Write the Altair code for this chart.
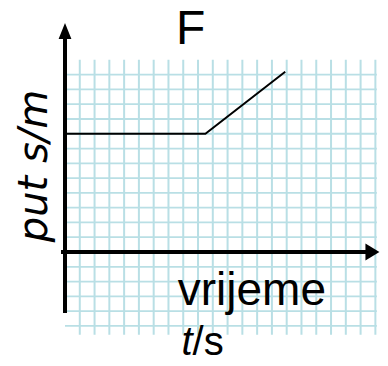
import altair as alt
import pandas as pd

# ---- data (grid units: one unit = one grid cell) ----
grid_x = list(range(1, 22))          # vertical grid lines
grid_y = list(range(-5, 13))         # horizontal grid lines
line_t = [0, 9.5, 14.9]              # time
line_s = [8, 8, 12.2]                # distance

title_text = "F"
ylabel_text = "put s/m"
xlabel_text = "vrijeme"
unit_t = "t"
unit_s = "/s"

# ---- layout constants ----
W, H = 372, 350
XDOM = [-3.857, 21.313]
YDOM = [-7.172, 16.509]
GRID_COLOR = "#b9dfe5"

xs = alt.Scale(domain=XDOM, nice=False, zero=False)
ys = alt.Scale(domain=YDOM, nice=False, zero=False)


def X(f="x"):
    return alt.X(f"{f}:Q", scale=xs, axis=None)


def Y(f="y"):
    return alt.Y(f"{f}:Q", scale=ys, axis=None)


vgrid = pd.DataFrame({"x": grid_x, "y": -5.6, "y2": 13.0})
hgrid = pd.DataFrame({"y": grid_y, "x": 0.0, "x2": 21.1})

v_layer = alt.Chart(vgrid).mark_rule(color=GRID_COLOR, strokeWidth=2).encode(
    x=X(), y=Y(), y2="y2:Q"
)
h_layer = alt.Chart(hgrid).mark_rule(color=GRID_COLOR, strokeWidth=1.8).encode(
    y=Y(), x=X(), x2="x2:Q"
)

axes = pd.DataFrame({
    "x": [0.0, -0.27], "x2": [0.0, 20.64],
    "y": [-4.13, 0.0], "y2": [14.41, 0.0],
})
axes_layer = alt.Chart(axes).mark_rule(color="black", strokeWidth=4).encode(
    x=X(), x2="x2:Q", y=Y(), y2="y2:Q"
)

yarrow = alt.Chart(pd.DataFrame({"x": [0.0], "y": [14.95]})).mark_point(
    shape="M0,-1L0.8,1L-0.8,1Z", filled=True, size=256, color="black",
    opacity=1, strokeWidth=0
).encode(x=X(), y=Y())
xarrow = alt.Chart(pd.DataFrame({"x": [20.80], "y": [0.0]})).mark_point(
    shape="M1,0L-1,1.2L-1,-1.2Z", filled=True, size=196, color="black",
    opacity=1, strokeWidth=0
).encode(x=X(), y=Y())

data_line = alt.Chart(pd.DataFrame({"t": line_t, "s": line_s})).mark_line(
    color="black", strokeWidth=2
).encode(x=X("t"), y=Y("s"))

title_layer = alt.Chart(pd.DataFrame({"x": [7.51], "y": [14.07], "label": [title_text]})).mark_text(
    font="Liberation Sans", fontSize=48, align="left", baseline="alphabetic", color="black"
).encode(x=X(), y=Y(), text="label:N")

ylabel_layer = alt.Chart(pd.DataFrame({"x": [-1.22], "y": [5.82], "label": [ylabel_text]})).mark_text(
    font="DejaVu Sans", fontSize=40, fontStyle="italic", align="center",
    baseline="alphabetic", angle=270, color="black"
).encode(x=X(), y=Y(), text="label:N")

xlabel_layer = alt.Chart(pd.DataFrame({"x": [7.63], "y": [-3.59], "label": [xlabel_text]})).mark_text(
    font="Liberation Sans", fontSize=46, align="left", baseline="alphabetic", color="black"
).encode(x=X(), y=Y(), text="label:N")

unit_t_layer = alt.Chart(pd.DataFrame({"x": [8.63], "y": [-6.97], "label": [unit_t]})).mark_text(
    font="Liberation Sans", fontSize=40, fontStyle="italic", align="right",
    baseline="alphabetic", color="black"
).encode(x=X(), y=Y(), text="label:N")
unit_s_layer = alt.Chart(pd.DataFrame({"x": [8.63], "y": [-6.97], "label": [unit_s]})).mark_text(
    font="Liberation Sans", fontSize=40, align="left", baseline="alphabetic", color="black"
).encode(x=X(), y=Y(), text="label:N")

chart = alt.layer(
    v_layer, h_layer, data_line, axes_layer, yarrow, xarrow,
    title_layer, ylabel_layer, xlabel_layer, unit_t_layer, unit_s_layer
).properties(
    width=W, height=H, padding=0, autosize=alt.AutoSizeParams(type="none"),
    background="white"
).configure_view(stroke=None)

chart.save("out.html", embed_options={"renderer": "svg", "actions": False})
